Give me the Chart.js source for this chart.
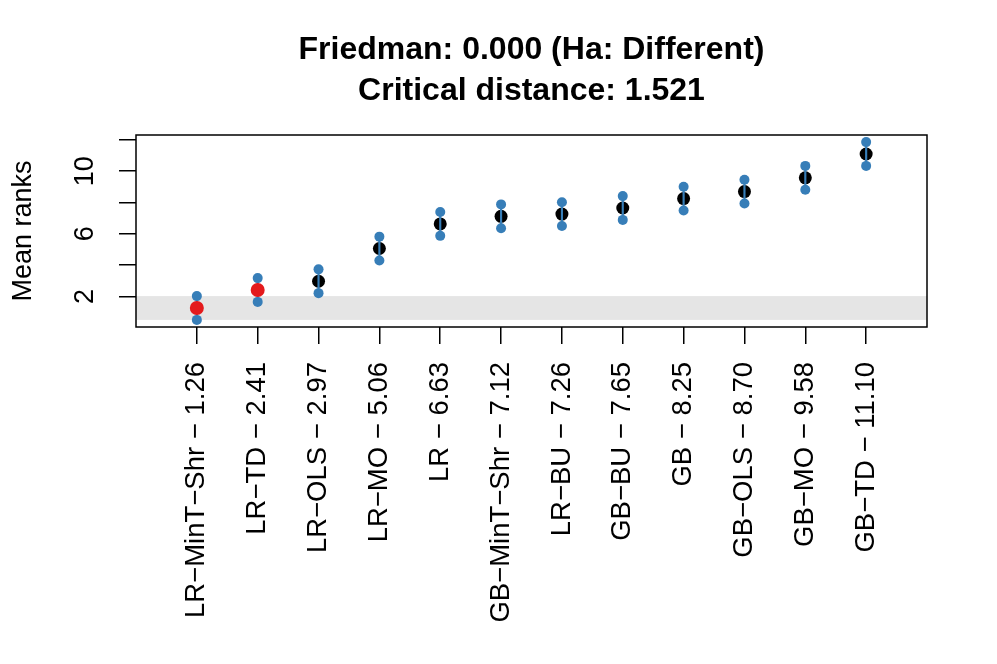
<!DOCTYPE html>
<html>
<head>
<meta charset="utf-8">
<script src="https://cdn.jsdelivr.net/npm/chart.js@4.4.0/dist/chart.umd.min.js"></script>
<style>
  html, body { margin: 0; padding: 0; background: #fff; }
  #wrap { width: 997px; height: 664px; }
</style>
</head>
<body>
<div id="wrap"><canvas id="cd"></canvas></div>
<script>
// ---------------------------------------------------------------------------
// Data
// ---------------------------------------------------------------------------
const methods = ['LR−MinT−Shr', 'LR−TD', 'LR−OLS', 'LR−MO', 'LR', 'GB−MinT−Shr',
  'LR−BU', 'GB−BU', 'GB', 'GB−OLS', 'GB−MO', 'GB−TD'];
const meanRanks = [1.26, 2.41, 2.97, 5.06, 6.63, 7.12, 7.26, 7.65, 8.25, 8.70, 9.58, 11.10];
// ends of the critical-distance interval around each mean rank
const lowerEnds = [0.50, 1.65, 2.21, 4.30, 5.87, 6.36, 6.50, 6.89, 7.49, 7.94, 8.82, 10.34];
const upperEnds = [2.02, 3.17, 3.73, 5.82, 7.39, 7.88, 8.02, 8.41, 9.01, 9.46, 10.34, 11.86];
const yTicks = [2, 4, 6, 8, 10, 12];
const yTickLabels = ['2', '', '6', '', '10', ''];
const friedmanP = '0.000';
const critDist = 1.521;
// grey band: interval of the best method
const bandLow = 0.50;
const bandHigh = 2.02;

const RED = '#E41A1C';
const BLUE = '#377EB8';
const FONT = '"Liberation Sans", Arial, Helvetica, sans-serif';

const xLabels = methods.map((m, i) => `${m} − ${meanRanks[i].toFixed(2)}`);
const sameAsBest = meanRanks.map(v => v - meanRanks[0] < critDist);

// ---------------------------------------------------------------------------
// Plot decorations: band, box, y labels, title
// ---------------------------------------------------------------------------
const decorPlugin = {
  id: 'decor',
  beforeDatasetsDraw(chart) {
    const { ctx, chartArea, scales } = chart;
    const yTop = scales.y.getPixelForValue(bandHigh);
    const yBot = scales.y.getPixelForValue(bandLow);
    ctx.save();
    ctx.fillStyle = '#E5E5E5';
    ctx.fillRect(chartArea.left, yTop, chartArea.right - chartArea.left, yBot - yTop);
    ctx.restore();
  },
  afterDraw(chart) {
    const { ctx, chartArea, scales } = chart;
    ctx.save();
    // box
    ctx.strokeStyle = '#000';
    ctx.lineWidth = 1.5;
    ctx.strokeRect(chartArea.left, chartArea.top, chartArea.right - chartArea.left,
      chartArea.bottom - chartArea.top);

    // y tick labels, vertical like R's default
    ctx.fillStyle = '#000';
    ctx.font = `27px ${FONT}`;
    ctx.textAlign = 'center';
    ctx.textBaseline = 'middle';
    yTicks.forEach((v, i) => {
      if (!yTickLabels[i]) return;
      const py = scales.y.getPixelForValue(v);
      ctx.save();
      ctx.translate(chartArea.left - 50, py);
      ctx.rotate(-Math.PI / 2);
      ctx.fillText(yTickLabels[i], 0, 0);
      ctx.restore();
    });

    // two-line title centred over the plot box
    const cx = (chartArea.left + chartArea.right) / 2;
    ctx.font = `bold 32px ${FONT}`;
    ctx.textBaseline = 'alphabetic';
    ctx.fillText(`Friedman: ${friedmanP} (Ha: Different)`, cx, 59);
    ctx.fillText(`Critical distance: ${critDist.toFixed(3)}`, cx, 100);
    ctx.restore();
  }
};

// ---------------------------------------------------------------------------
// Datasets
// ---------------------------------------------------------------------------
const pts = arr => arr.map((v, i) => ({ x: i + 1, y: v }));

const datasets = [
  {
    label: 'Mean rank',
    type: 'scatter',
    data: pts(meanRanks).filter((_, i) => !sameAsBest[i]),
    pointRadius: 6.5,
    pointBackgroundColor: '#000',
    pointBorderWidth: 0,
    order: 4
  },
  {
    label: 'Interval',
    type: 'bar',
    data: methods.map((_, i) => ({ x: i + 1, y: [lowerEnds[i], upperEnds[i]] })),
    backgroundColor: BLUE,
    borderWidth: 0,
    barThickness: 1.5,
    order: 3
  },
  {
    label: 'Lower',
    type: 'scatter',
    data: pts(lowerEnds),
    pointRadius: 5,
    pointBackgroundColor: BLUE,
    pointBorderWidth: 0,
    order: 2
  },
  {
    label: 'Upper',
    type: 'scatter',
    data: pts(upperEnds),
    pointRadius: 5,
    pointBackgroundColor: BLUE,
    pointBorderWidth: 0,
    order: 2
  },
  {
    label: 'Not different from best',
    type: 'scatter',
    data: pts(meanRanks).filter((_, i) => sameAsBest[i]),
    pointRadius: 7,
    pointBackgroundColor: RED,
    pointBorderWidth: 0,
    order: 1
  }
];

new Chart(document.getElementById('cd'), {
  type: 'scatter',
  data: { datasets },
  options: {
    responsive: true,
    maintainAspectRatio: false,
    animation: false,
    layout: { padding: { left: 0, right: 70, top: 135, bottom: 0 } },
    plugins: {
      legend: { display: false },
      tooltip: { enabled: false }
    },
    scales: {
      x: {
        type: 'linear',
        min: 0,
        max: 13,
        offset: false,
        afterBuildTicks: s => { s.ticks = methods.map((_, i) => ({ value: i + 1 })); },
        afterFit: s => { s.height = 337; },
        border: { display: false },
        grid: {
          offset: false,
          drawOnChartArea: false,
          drawTicks: true,
          tickLength: 17,
          color: '#000',
          lineWidth: 1.5
        },
        ticks: {
          autoSkip: false,
          minRotation: 90,
          maxRotation: 90,
          padding: 18,
          color: '#000',
          font: { family: FONT, size: 27.5 },
          callback: (value) => xLabels[value - 1] ?? ''
        }
      },
      y: {
        type: 'linear',
        min: 0.046,
        max: 12.314,
        afterBuildTicks: s => { s.ticks = yTicks.map(v => ({ value: v })); },
        afterFit: s => { s.width = 136; },
        border: { display: false },
        grid: {
          drawOnChartArea: false,
          drawTicks: true,
          tickLength: 17,
          color: '#000',
          lineWidth: 1.5
        },
        ticks: { display: false },
        title: {
          display: true,
          text: 'Mean ranks',
          color: '#000',
          font: { family: FONT, size: 27 },
          padding: { top: 7, bottom: 0 }
        }
      }
    }
  },
  plugins: [decorPlugin]
});
</script>
</body>
</html>
